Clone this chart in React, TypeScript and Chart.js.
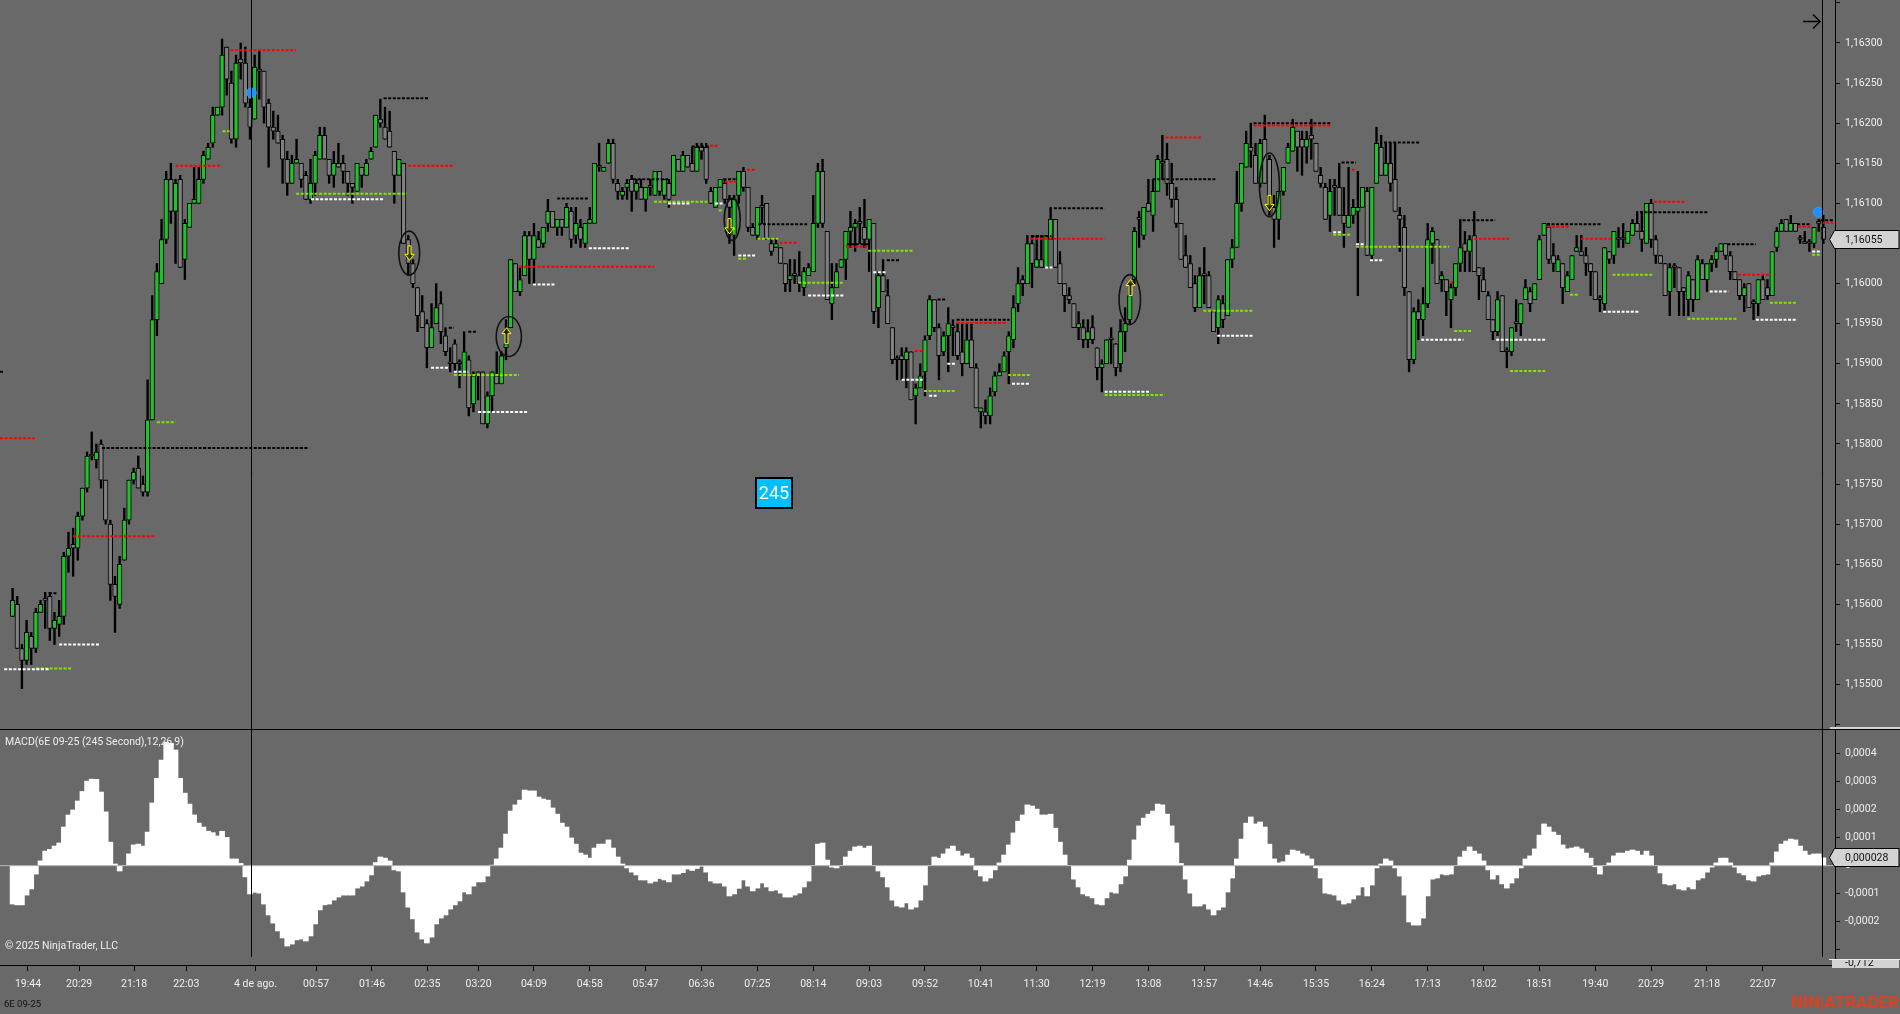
import React, { useEffect, useRef } from "react";
import { Chart, registerables } from "chart.js";

Chart.register(...registerables);

// Prices are in 1e-5 units (116055 = 1,16055). Bars are 245-second candles.
const opens = [
115585,115600,115545,115530,115560,115545,115590,115605,115610,115570,
115575,115585,115660,115675,115670,115710,115745,115785,115780,115800,
115755,115700,115625,115600,115655,115705,115755,115770,115750,115740,
115830,115955,116000,116055,116130,116090,116130,116030,116070,116100,
116100,116130,116155,116175,116210,116220,116295,116250,116180,116280,
116275,116220,116205,116265,116265,116225,116195,116190,116180,116155,
116125,116150,116150,116135,116105,116125,116155,116185,116155,116135,
116150,116150,116140,116125,116115,116145,116135,116155,116170,116205,
116195,116190,116165,116135,116150,116055,116025,115995,115965,115950,
115920,115950,115975,115935,115900,115925,115900,115890,115905,115850,
115890,115890,115825,115860,115885,115875,115920,115945,116025,115990,
116010,116060,116030,116055,116050,116075,116090,116070,116080,116070,
116090,116060,116070,116050,116075,116075,116145,116140,116150,116175,
116125,116110,116120,116130,116115,116120,116105,116120,116110,116140,
116110,116125,116110,116155,116140,116160,116150,116140,116170,116170,
116115,116095,116120,116125,116105,116060,116110,116140,116120,116070,
116060,116095,116100,116050,116045,116045,116025,116005,116010,116010,
115995,116010,116015,116075,116140,116065,115975,115995,116020,116030,
116065,116070,116075,116070,116055,116075,115970,116010,115985,115945,
115905,115910,115905,115915,115860,115870,115890,115935,115980,115945,
115915,115935,115945,115940,115915,115900,115930,115895,115840,115840,
115835,115865,115885,115890,115915,115930,115975,116005,116000,116050,
116020,116030,116020,116055,116080,116025,116000,115985,115975,115945,
115945,115930,115945,115920,115895,115900,115930,115925,115900,115940,
115955,116005,116080,116060,116100,116085,116115,116150,116155,116125,
116105,116075,116035,116025,116000,115970,116010,116010,115965,115945,
115975,115960,116030,116045,116100,116145,116170,116160,116125,116180,
116155,116095,116080,116115,116150,116165,116190,116180,116170,116185,
116175,116135,116120,116085,116120,116120,116085,116070,116085,116090,
116095,116115,116035,116125,116170,116135,116150,116130,116085,116070,
115990,115905,115965,115955,115975,116050,116055,116005,116005,115980,
115995,116025,116050,116040,116060,116020,116005,115985,115955,115940,
115985,115915,115915,115950,115950,115980,115990,115980,116005,116060,
116070,116035,116015,116025,115990,116005,116040,116040,116035,116025,
116015,115980,115975,116040,116035,116055,116055,116050,116060,116075,
116065,116050,116100,116055,116035,116025,115990,116020,116020,115995,
115980,116005,115980,116025,116005,116025,116030,116040,116050,116035,
116015,116005,115985,116000,115975,115975,116005,115995,115985,116045,
116065,116080,116065,116075,116055,116050,116050,116050,116075,116070,
];
const highs = [
115620,115610,115550,115580,115565,115595,115605,115615,115615,115590,
115605,115665,115690,115695,115715,115745,115790,115815,115800,115805,
115755,115705,115635,115660,115720,115755,115770,115785,115760,115880,
115985,116025,116080,116140,116150,116130,116135,116080,116100,116145,
116145,116165,116175,116220,116220,116305,116295,116265,116285,116300,
116295,116230,116285,116290,116265,116230,116215,116210,116185,116165,
116160,116180,116150,116140,116155,116165,116195,116195,116155,116165,
116175,116160,116140,116125,116150,116145,116155,116170,116210,116230,
116220,116215,116165,116155,116150,116060,116030,115995,115985,115955,
115975,116000,115990,115945,115920,115930,115905,115940,115910,115890,
115890,115890,115865,115890,115915,115915,115955,116030,116025,116020,
116065,116065,116075,116065,116070,116105,116090,116080,116080,116100,
116095,116095,116080,116075,116095,116150,116175,116145,116180,116180,
116130,116120,116130,116135,116130,116130,116120,116130,116140,116140,
116130,116130,116160,116155,116165,116160,116170,116175,116175,116175,
116120,116120,116130,116130,116110,116110,116140,116145,116120,116075,
116095,116110,116100,116055,116055,116045,116025,116030,116030,116040,
116020,116025,116110,116150,116155,116065,116025,116025,116030,116065,
116090,116080,116095,116105,116080,116075,116015,116030,116005,115945,
115910,115920,115920,115915,115875,115900,115935,115985,115980,115950,
115940,115970,115955,115950,115950,115950,115950,115900,115845,115855,
115870,115890,115900,115915,115940,115985,116020,116010,116060,116060,
116060,116060,116060,116095,116080,116040,116000,115995,115975,115965,
115955,115955,115960,115920,115905,115930,115945,115925,115955,115970,
116000,116070,116090,116095,116130,116130,116160,116185,116175,116150,
116120,116075,116060,116035,116010,116020,116045,116015,115965,115985,
115985,116030,116055,116140,116150,116190,116200,116175,116180,116210,
116160,116110,116115,116145,116175,116205,116190,116190,116190,116205,
116175,116145,116125,116130,116130,116150,116120,116145,116105,116140,
116120,116120,116120,116195,116185,116175,116175,116175,116095,116085,
115990,115970,115980,115995,116075,116070,116055,116015,116005,116000,
116025,116080,116065,116060,116090,116020,116020,115990,115955,115990,
115985,115920,115945,115980,115975,116005,115995,116000,116060,116075,
116075,116050,116035,116025,116015,116035,116060,116060,116045,116025,
116015,115985,116045,116040,116065,116070,116075,116065,116080,116090,
116090,116100,116105,116060,116035,116025,116025,116025,116020,115995,
116015,116005,116035,116030,116025,116035,116045,116050,116050,116040,
116015,116005,116000,116000,115980,116005,116010,116005,116040,116070,
116080,116080,116085,116075,116060,116065,116055,116070,116080,116085,
];
const lows = [
115585,115545,115495,115525,115525,115540,115590,115570,115555,115550,
115560,115575,115640,115635,115655,115705,115740,115780,115770,115745,
115700,115605,115565,115595,115655,115700,115750,115745,115735,115735,
115830,115935,116000,116050,116075,116025,116020,116005,116070,116100,
116100,116125,116155,116170,116210,116210,116235,116175,116170,116255,
116220,116180,116205,116230,116200,116145,116180,116175,116125,116110,
116125,116150,116120,116105,116100,116110,116155,116155,116125,116120,
116145,116125,116110,116100,116115,116120,116135,116155,116170,116195,
116180,116170,116100,116135,116050,116010,115995,115940,115945,115895,
115920,115950,115925,115910,115890,115890,115870,115890,115835,115840,
115855,115825,115820,115840,115875,115875,115905,115945,115990,115985,
116010,116000,116000,116045,116045,116065,116070,116060,116060,116070,
116045,116050,116045,116045,116075,116075,116140,116140,116150,116125,
116105,116105,116105,116090,116105,116105,116090,116110,116110,116110,
116105,116095,116110,116140,116140,116145,116140,116140,116155,116125,
116100,116095,116120,116100,116050,116035,116100,116115,116065,116060,
116055,116075,116055,116035,116045,116025,115990,115990,116000,115990,
115985,116010,116015,116070,116070,115980,115955,115995,116020,116005,
116045,116040,116050,116045,116015,115950,115945,115990,115950,115900,
115880,115880,115870,115855,115825,115870,115860,115930,115940,115880,
115910,115890,115910,115905,115885,115900,115895,115845,115820,115825,
115825,115860,115885,115890,115875,115920,115965,115985,116000,115995,
116020,116020,116020,116055,116020,116000,115965,115975,115945,115930,
115920,115920,115925,115880,115865,115900,115900,115885,115890,115915,
115950,116000,116045,116055,116090,116065,116115,116130,116110,116095,
116070,116030,116020,115995,115965,115970,115975,115970,115940,115925,
115945,115960,116020,116045,116090,116145,116145,116125,116120,116125,
116085,116045,116055,116110,116150,116165,116140,116135,116150,116155,
116140,116120,116080,116065,116085,116085,116045,116070,116075,115985,
116095,116035,116030,116125,116135,116135,116115,116090,116040,115985,
115890,115900,115930,115935,115970,116025,116000,115990,115960,115945,
115985,116015,116015,116015,116015,115980,115990,115955,115930,115935,
115915,115895,115910,115940,115935,115980,115965,115980,116005,116060,
116025,116015,116015,115975,115990,116005,116040,116035,116010,115985,
115980,115965,115965,116025,116025,116045,116045,116050,116060,116065,
116040,116050,116045,116025,116025,115985,115960,115995,115960,115960,
115960,115965,115980,116005,115990,116015,116020,116040,116030,116005,
116005,115980,115965,115970,115955,115960,115980,115980,115985,116040,
116065,116065,116065,116065,116050,116050,116040,116045,116065,116050,
];
const closes = [
115605,115545,115530,115565,115545,115590,115600,115605,115570,115580,
115585,115660,115670,115670,115710,115745,115785,115785,115790,115755,
115705,115625,115610,115650,115705,115755,115765,115745,115740,115830,
115955,116015,116055,116130,116090,116125,116020,116075,116100,116105,
116130,116160,116170,116210,116220,116285,116255,116180,116275,116275,
116225,116195,116270,116265,116220,116195,116190,116175,116155,116125,
116150,116155,116130,116105,116125,116160,116185,116155,116135,116150,
116145,116140,116125,116120,116150,116135,116150,116165,116210,116200,
116180,116170,116135,116155,116050,116025,116000,115960,115945,115920,
115945,115970,115940,115915,115900,115900,115900,115915,115845,115885,
115885,115825,115860,115890,115875,115910,115925,116030,115990,116005,
116060,116030,116060,116045,116070,116090,116070,116080,116070,116095,
116055,116075,116055,116075,116080,116150,116145,116145,116175,116130,
116115,116115,116125,116115,116125,116105,116120,116120,116140,116115,
116130,116105,116160,116140,116160,116145,116140,116170,116165,116130,
116100,116120,116130,116105,116095,116105,116140,116120,116070,116060,
116095,116095,116055,116040,116050,116025,116000,116010,116010,116000,
116015,116020,116075,116140,116075,115980,115995,116015,116030,116065,
116070,116075,116075,116055,116080,115965,116010,115990,115950,115905,
115905,115905,115915,115855,115870,115885,115930,115980,115945,115910,
115935,115950,115945,115910,115900,115930,115895,115845,115845,115835,
115860,115885,115890,115910,115935,115970,116000,116000,116050,116025,
116030,116020,116060,116080,116020,116000,115985,115980,115945,115950,
115930,115940,115930,115895,115900,115930,115930,115895,115940,115950,
115985,116065,116080,116095,116090,116115,116155,116150,116125,116105,
116075,116030,116020,115995,115970,116010,116010,115970,115940,115980,
115955,116030,116045,116100,116150,116175,116165,116125,116175,116125,
116095,116080,116115,116145,116170,116195,116170,116170,116180,116180,
116140,116125,116080,116115,116120,116085,116075,116085,116095,116095,
116120,116035,116120,116175,116135,116150,116125,116090,116080,115995,
115905,115965,115955,115975,116055,116065,116000,116010,115990,115995,
116025,116045,116040,116055,116015,116010,115990,115955,115940,115980,
115915,115915,115945,115950,115975,115995,115975,116000,116055,116075,
116030,116025,116030,115995,116010,116035,116045,116035,116025,116015,
115980,115980,116045,116030,116065,116055,116055,116065,116075,116065,
116055,116100,116055,116035,116025,115985,116020,116020,115990,115990,
116010,115980,116030,116005,116025,116030,116040,116050,116035,116015,
116005,115985,115995,115970,115975,116005,115980,115985,116040,116065,
116075,116065,116075,116065,116055,116050,116050,116070,116075,116055,
];

// MACD histogram in 1e-6 units (28 = 0,000028).
const macdValues = [
-137,-140,-140,-105,-83,-30,17,52,58,70,81,138,181,199,231,265,302,309,308,263,
192,84,6,-19,0,42,74,77,70,120,224,312,377,441,437,413,312,259,220,181,
152,138,123,118,106,123,101,24,24,8,-40,-101,-95,-98,-137,-176,-205,-233,-258,-287,
-280,-265,-262,-269,-251,-208,-158,-140,-137,-123,-112,-105,-105,-105,-80,-73,-55,-33,11,31,
27,17,-15,-19,-94,-148,-190,-237,-262,-276,-255,-208,-187,-176,-155,-140,-126,-94,-101,-73,
-58,-58,-37,2,24,63,113,195,217,234,270,267,267,245,238,234,206,184,152,138,
99,77,45,38,27,63,77,77,92,63,31,6,-8,-23,-33,-51,-51,-62,-56,-46,
-51,-58,-30,-30,-25,-12,-17,-10,-2,-23,-55,-62,-62,-73,-108,-101,-81,-51,-73,-90,
-80,-62,-76,-90,-87,-98,-112,-112,-105,-98,-76,-55,0,77,81,20,-5,-8,0,31,
52,67,70,63,70,0,-19,-40,-76,-123,-144,-148,-133,-155,-148,-123,-69,0,31,27,
42,60,70,52,35,42,27,-15,-37,-55,-44,-15,10,38,74,117,159,181,217,213,
202,181,181,184,134,84,38,0,-48,-76,-101,-108,-115,-137,-140,-115,-94,-98,-65,-37,
20,92,142,170,184,195,220,217,184,142,81,8,-48,-98,-144,-144,-137,-155,-176,-158,
-148,-94,-44,24,95,152,174,149,156,138,77,24,10,14,38,56,52,42,35,24,
-8,-44,-98,-101,-105,-123,-137,-133,-119,-105,-76,-108,-69,-8,6,24,17,-8,-37,-105,
-201,-212,-212,-187,-108,-48,-44,-30,-33,-30,0,31,52,67,52,42,17,-15,-48,-33,
-65,-80,-62,-44,-8,24,35,60,109,149,138,120,109,74,60,63,67,60,45,27,
-4,-30,0,10,35,45,45,52,56,52,38,52,35,0,-26,-65,-69,-65,-83,-87,
-76,-83,-51,-44,-23,-5,10,27,27,10,-5,-26,-33,-51,-55,-37,-33,-30,10,49,
77,88,95,92,70,52,38,42,42,28,
];

const timeTickBars = [3.3,14.3,26.1,37.3,52.2,65.2,77.2,89.1,100.1,112,124,136,148,160,172,184,196,208,220,232,244,256,268,280,292,304,316,328,340,352,364,376];
const timeTickLabels = ["19:44","20:29","21:18","22:03","4 de ago.","00:57","01:46","02:35","03:20","04:09","04:58","05:47","06:36","07:25","08:14","09:03","09:52","10:41","11:30","12:19","13:08","13:57","14:46","15:35","16:24","17:13","18:02","18:51","19:40","20:29","21:18","22:07"];

// Dotted levels: [from bar, to bar, price]
const redLevels = [[-2.7,4.75,115807],[13,30.8,115685],[35,44.6,116147],[46.8,60.9,116291],[85,94.6,116147],[108.8,137.8,116021],[149.8,151.6,116172],[153,155.5,116127],[157.8,159.7,116142],[164.8,168.5,116051],[179,183.5,116046],[193.8,195.5,115916],[202.8,213.7,115951],[218.7,234.6,116056],[247.7,255.4,116182],[266.6,283.3,116197],[287.7,288.6,116142],[308.8,309.5,116001],[314,321.5,116056],[329.7,334.6,116071],[336.9,343.3,116056],[352.6,359.4,116102],[370.7,377.5,116011],[383.6,386.3,116071],[388.6,391.1,116076]];
const blackLevels = [[-2.7,-2,115890],[7.8,9.6,115614],[19.2,63.7,115795],[79.7,89.5,116231],[93.7,94.8,115945],[97.9,99.7,115940],[117,123.7,116106],[133.3,140.9,116130],[145.9,149.8,116171],[152.7,155.5,116130],[160.2,170.7,116074],[179.2,184.2,116049],[187.8,190.6,116029],[198.7,200.6,115980],[202.8,214.2,115955],[218.9,223.2,116059],[223.7,234.6,116094],[244.9,258.5,116130],[266.6,283.3,116200],[285.5,288.6,116151],[294.6,302.5,116176],[311.5,318.5,116079],[329.6,341.4,116074],[349.6,364.4,116089],[368.4,374.5,116049],[383.4,386.4,116074],[388.4,391.1,116079]];
const whiteLevels = [[-1.8,7.8,115519],[10,18.8,115550],[64.1,79.7,116105],[89.9,93.7,115895],[94.8,97.9,115890],[100,110.7,115840],[111.8,116.7,115999],[123.8,132.5,116044],[140.8,145.6,116100],[150.9,152.5,116100],[155.9,159.7,116035],[170.9,178.6,115985],[184.9,187.6,116014],[191,195.5,115880],[196.9,198.5,115860],[200.8,202.6,115900],[214.7,218.5,115875],[221.8,223.4,116020],[234.6,244.5,115865],[258.8,266.5,115935],[283.7,285.5,116064],[288.6,290.4,116049],[291.6,294.6,116029],[302.6,311.7,115930],[318.7,329.4,115930],[341.7,349.4,115965],[364.6,368.6,115990],[374.5,383.4,115955],[386.6,388.6,116040]];
const limeLevels = [[5,12.7,115520],[31,35,115827],[45.1,46.6,116190],[60.9,84.7,116112],[94.8,108.8,115886],[137.8,149.4,116102],[151.7,152.5,116091],[152.7,155.2,116068],[155.9,157.7,116031],[160,164.5,116056],[168.8,178.6,116001],[183.8,193.6,116041],[195.8,202.6,115866],[213.9,218.5,115886],[234.6,247.5,115861],[255.8,266.5,115966],[283.7,287.5,116061],[288.6,308.6,116046],[309.7,313.6,115941],[321.7,329.4,115891],[334.6,336.5,115986],[343.7,352.5,116011],[359.8,370.5,115956],[377.5,383.4,115976],[386.6,388.6,116036]];

// Signals: ellipse centre and arrow tip / tail prices
const signalBars = [85.2,106.6,154.6,240,270];
const signalPrices = [116038,115934,116080,115980,116123];
const signalRadiiX = [10.4,12.6,8,10.7,10];
const signalRadiiY = [22,20,21,25,32];
const arrowBars = [85.2,106.1,154,240,270];
const arrowTips = [116029,115945,116062,116005,116091];
const arrowTails = [116047,115925,116081,115985,116110];

const dotBars = [51.3,387.9];
const dotPrices = [116238,116089];
const cursorBar = 51.3;
const lastLineBar = 388.8;
const lastPrice = "1,16055";
const lastMacd = "0,000028";

const BG = "#696969";
const GREEN = "#22c02c";
const GRAY = "#808080";
const FONT = "Roboto";

function levelPoints(levels: number[][]) {
  const out: any[] = [];
  levels.forEach(([a, b, p]) => {
    out.push({ x: a, y: p }, { x: b, y: p }, { x: b, y: null });
  });
  return out;
}

function levelDataset(levels: number[][], color: string) {
  return {
    type: "line",
    yAxisID: "y",
    data: levelPoints(levels),
    borderColor: color,
    borderWidth: 2,
    borderDash: [3, 1.6],
    pointRadius: 0,
    spanGaps: false,
    tension: 0,
    order: 1,
  };
}

function marker(ctx: any, tipX: number, top: number, bottom: number, text: string) {
  const mid = (top + bottom) / 2;
  ctx.beginPath();
  ctx.moveTo(tipX, mid);
  ctx.lineTo(tipX + 5, top);
  ctx.lineTo(1899, top);
  ctx.lineTo(1899, bottom);
  ctx.lineTo(tipX + 5, bottom);
  ctx.closePath();
  ctx.fillStyle = "#d3d3d3";
  ctx.fill();
  ctx.strokeStyle = "#000";
  ctx.lineWidth = 1;
  ctx.stroke();
  ctx.fillStyle = "#111";
  ctx.font = `10.5px ${FONT}`;
  ctx.textAlign = "left";
  ctx.textBaseline = "middle";
  ctx.fillText(text, 1845, mid + 0.5);
}

const overlayPlugin = {
  id: "overlay",
  afterDatasetsDraw(chart: any) {
    const { ctx, scales } = chart;
    const x = scales.x;
    const y = scales.y;
    ctx.save();
    ctx.strokeStyle = "#000";
    ctx.lineWidth = 1;
    [cursorBar, lastLineBar].forEach((b) => {
      const px = Math.round(x.getPixelForValue(b)) + 0.5;
      ctx.beginPath();
      ctx.moveTo(px, 0);
      ctx.lineTo(px, 957);
      ctx.stroke();
    });
    // signal ellipses and arrows
    signalBars.forEach((b, i) => {
      ctx.beginPath();
      ctx.ellipse(x.getPixelForValue(b), y.getPixelForValue(signalPrices[i]), signalRadiiX[i], signalRadiiY[i], 0, 0, Math.PI * 2);
      ctx.strokeStyle = "#111";
      ctx.lineWidth = 1.6;
      ctx.stroke();
      const ax = Math.round(x.getPixelForValue(arrowBars[i])) + 0.5;
      const tip = y.getPixelForValue(arrowTips[i]);
      const tail = y.getPixelForValue(arrowTails[i]);
      const dir = tail > tip ? 1 : -1;
      ctx.beginPath();
      ctx.moveTo(ax, tip);
      ctx.lineTo(ax + 4.5, tip + dir * 6);
      ctx.lineTo(ax + 1.5, tip + dir * 6);
      ctx.lineTo(ax + 1.5, tail);
      ctx.lineTo(ax - 1.5, tail);
      ctx.lineTo(ax - 1.5, tip + dir * 6);
      ctx.lineTo(ax - 4.5, tip + dir * 6);
      ctx.closePath();
      ctx.fillStyle = "rgba(40,40,0,0.75)";
      ctx.fill();
      ctx.strokeStyle = "#ffff00";
      ctx.lineWidth = 1;
      ctx.stroke();
    });
    // "245" bar-size box
    ctx.fillStyle = "#00bfff";
    ctx.fillRect(756, 478, 36, 30);
    ctx.strokeStyle = "#000";
    ctx.lineWidth = 2;
    ctx.strokeRect(756, 478, 36, 30);
    ctx.fillStyle = "#fff";
    ctx.font = `18px ${FONT}`;
    ctx.textAlign = "center";
    ctx.textBaseline = "middle";
    ctx.fillText("245", 774, 494);
    // texts in the panes
    ctx.textAlign = "left";
    ctx.font = `10.5px ${FONT}`;
    ctx.fillStyle = "#eeeeee";
    ctx.fillText("MACD(6E 09-25 (245 Second),12,26,9)", 5, 742.5);
    ctx.fillText("© 2025 NinjaTrader, LLC", 5, 946.5);
    ctx.restore();
  },
  afterDraw(chart: any) {
    const { ctx } = chart;
    ctx.save();
    // pane separator
    ctx.strokeStyle = "#000";
    ctx.lineWidth = 1;
    ctx.beginPath();
    ctx.moveTo(0, 729.5);
    ctx.lineTo(1900, 729.5);
    ctx.stroke();
    // top-right arrow
    ctx.lineWidth = 1.5;
    ctx.beginPath();
    ctx.moveTo(1803, 21.5);
    ctx.lineTo(1820, 21.5);
    ctx.moveTo(1813, 14.5);
    ctx.lineTo(1820, 21.5);
    ctx.lineTo(1813, 28.5);
    ctx.stroke();
    // live-price markers
    marker(ctx, 1829.5, 230.5, 248.5, lastPrice);
    marker(ctx, 1829.5, 848.5, 866.5, lastMacd);
    // clipped markers on the pane edges
    ctx.fillStyle = "#d3d3d3";
    ctx.fillRect(1830, 727, 70, 2);
    ctx.save();
    ctx.beginPath();
    ctx.rect(1829, 959, 71, 10);
    ctx.clip();
    ctx.fillRect(1832, 960, 67, 8);
    ctx.fillStyle = "#111";
    ctx.font = `10.5px ${FONT}`;
    ctx.textAlign = "left";
    ctx.textBaseline = "middle";
    ctx.fillText("-0,712", 1845, 963);
    ctx.strokeStyle = "#eee";
    ctx.beginPath();
    ctx.moveTo(1829, 959.5);
    ctx.lineTo(1900, 959.5);
    ctx.stroke();
    ctx.restore();
    // footer
    ctx.font = `9.5px ${FONT}`;
    ctx.fillStyle = "#111";
    ctx.textAlign = "left";
    ctx.textBaseline = "middle";
    ctx.fillText("6E 09-25", 4, 1005);
    ctx.font = `bold 17px ${FONT}`;
    ctx.fillStyle = "#e0401f";
    ctx.textAlign = "right";
    ctx.fillText("NIN|ATRADER", 1899, 1004);
    ctx.restore();
  },
};

function pinVertical(s: any) {
  s.width = 65;
  s.paddingTop = 0;
  s.paddingBottom = 0;
  s.paddingLeft = 0;
  s.paddingRight = 0;
}

export default function App() {
  const ref = useRef<HTMLCanvasElement>(null);
  useEffect(() => {
    document.body.style.margin = "0";
    document.body.style.background = BG;
    const bars = opens.map((_, i) => i);
    const chart = new Chart(ref.current as any, {
      type: "bar",
      data: {
        datasets: [
          {
            type: "line",
            yAxisID: "y",
            data: dotBars.map((b, i) => ({ x: b, y: dotPrices[i] })),
            showLine: false,
            pointRadius: 5,
            pointBackgroundColor: "#1e90ff",
            pointBorderColor: "#5aa9e6",
            pointBorderWidth: 0.5,
            order: 0,
          },
          levelDataset(redLevels, "#ff0000"),
          levelDataset(blackLevels, "#000000"),
          levelDataset(whiteLevels, "#ffffff"),
          levelDataset(limeLevels, "#7fe800"),
          {
            type: "line",
            yAxisID: "y2",
            data: [{ x: -2.7, y: 0 }, { x: 391.5, y: 0 }],
            borderColor: "#b8b8b8",
            borderWidth: 1,
            pointRadius: 0,
            order: 2,
          },
          {
            type: "bar",
            yAxisID: "y",
            grouped: false,
            data: bars.map((i) => ({ x: i, y: [opens[i], closes[i]] })),
            backgroundColor: bars.map((i) => (closes[i] > opens[i] ? GREEN : GRAY)),
            borderColor: "#000",
            borderWidth: 1,
            borderSkipped: false,
            barThickness: 4.6,
            minBarLength: 2,
            order: 3,
          },
          {
            type: "bar",
            yAxisID: "y",
            grouped: false,
            data: bars.map((i) => ({ x: i, y: [lows[i], highs[i]] })),
            backgroundColor: "#000",
            borderWidth: 0,
            barThickness: 1.7,
            order: 4,
          },
          {
            type: "bar",
            yAxisID: "y2",
            grouped: false,
            data: macdValues.map((v, i) => ({ x: i, y: v })),
            backgroundColor: "#ffffff",
            borderWidth: 0,
            barThickness: 5,
            order: 5,
          },
        ] as any,
      },
      options: {
        responsive: false,
        animation: false,
        devicePixelRatio: 1,
        parsing: { xAxisKey: "x", yAxisKey: "y" },
        layout: { padding: 0, autoPadding: false },
        events: [],
        plugins: { legend: { display: false }, tooltip: { enabled: false } },
        scales: {
          x: {
            type: "linear",
            offset: false,
            min: -2.707,
            max: 391.5,
            grid: { display: true, drawOnChartArea: false, color: "#000", tickLength: 6, offset: false },
            border: { color: "#000", width: 1 },
            ticks: {
              color: "#eeeeee",
              font: { family: FONT, size: 10.5 },
              padding: 7,
              maxRotation: 0,
              autoSkip: false,
              includeBounds: false,
              callback: (_v: any, i: number) => timeTickLabels[i],
            },
            afterBuildTicks: (s: any) => {
              s.ticks = timeTickBars.map((v) => ({ value: v }));
            },
            afterFit: (s: any) => {
              s.height = 49;
              s.paddingLeft = 0;
              s.paddingRight = 0;
              s.paddingTop = 0;
              s.paddingBottom = 0;
            },
          },
          y: {
            type: "linear",
            position: "right",
            stack: "panes",
            stackWeight: 729,
            min: 115444.6,
            max: 116353.6,
            grid: { display: true, drawOnChartArea: false, color: "#000", tickLength: 5 },
            border: { color: "#000", width: 1 },
            ticks: {
              stepSize: 50,
              color: "#eeeeee",
              font: { family: FONT, size: 10.5 },
              padding: 5,
              autoSkip: false,
              includeBounds: false,
              crossAlign: "near",
              callback: (v: any) => (v > 116300 || v < 115500 ? "" : (v / 100000).toFixed(5).replace(".", ",")),
            },
            afterFit: pinVertical,
          },
          y2: {
            type: "linear",
            position: "right",
            stack: "panes",
            stackWeight: 236,
            min: -354.6,
            max: 488,
            grid: { display: true, drawOnChartArea: false, color: "#000", tickLength: 5 },
            border: { color: "#000", width: 1 },
            ticks: {
              stepSize: 100,
              color: "#eeeeee",
              font: { family: FONT, size: 10.5 },
              padding: 5,
              autoSkip: false,
              includeBounds: false,
              crossAlign: "near",
              callback: (v: any) => (v === 0 ? "0" : v < -200 ? "" : (v / 1000000).toFixed(4).replace(".", ",")),
            },
            afterFit: pinVertical,
          },
        },
      } as any,
      plugins: [overlayPlugin],
    });
    return () => chart.destroy();
  }, []);
  return (
    <canvas
      ref={ref}
      width={1900}
      height={1014}
      style={{ position: "absolute", left: 0, top: 0, width: 1900, height: 1014, background: BG, display: "block" }}
    />
  );
}
